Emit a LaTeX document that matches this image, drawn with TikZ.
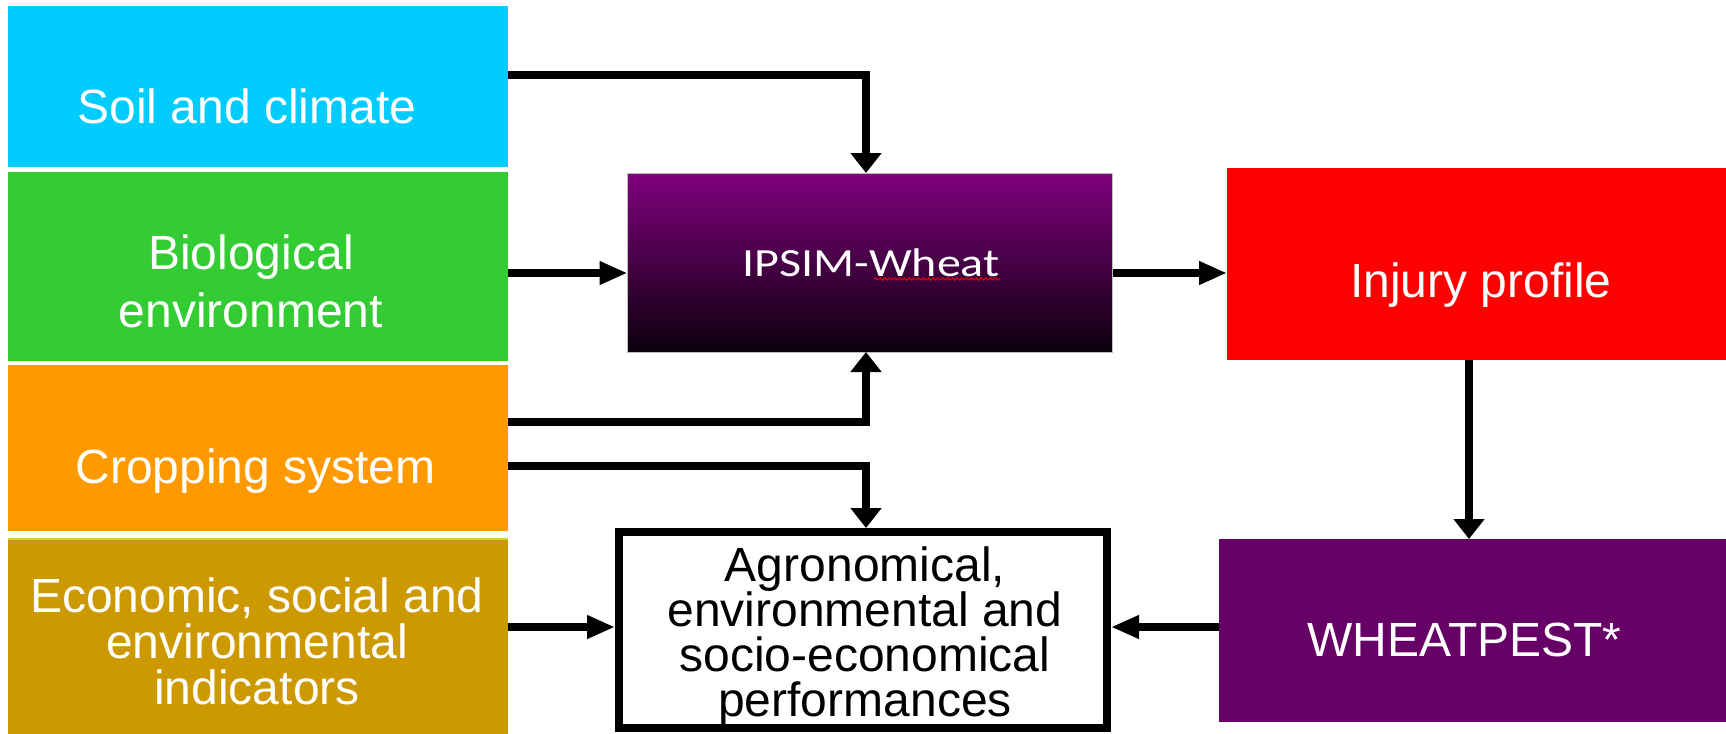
\documentclass[tikz,border=0pt]{standalone}
\usepackage{fontspec}
\setmainfont{Liberation Sans}
\newfontfamily\calibri{Carlito}
\usepackage{graphicx}
\usetikzlibrary{arrows.meta,decorations.pathmorphing}

\definecolor{soilc}{RGB}{0,204,255}
\definecolor{bioc}{RGB}{51,204,51}
\definecolor{cropc}{RGB}{255,153,0}
\definecolor{econc}{RGB}{204,153,0}
\definecolor{econline}{RGB}{204,214,40}
\definecolor{injc}{RGB}{255,0,0}
\definecolor{wpc}{RGB}{102,0,102}
\definecolor{iptop}{RGB}{128,0,126}
\definecolor{ipmid}{RGB}{94,0,92}
\definecolor{ipbot}{RGB}{12,0,12}

\begin{document}
\begin{tikzpicture}[x=0.5pt,y=-0.5pt,
  box/.style={rectangle, inner sep=0pt, outer sep=0pt, draw=none},
  lbl/.style={inner sep=0pt, outer sep=0pt, text=white, align=center, font=\fontsize{24}{28.5}\selectfont},
  hconn/.style={line width=4pt, -{Triangle[width=11pt,length=14pt]}},
  vconn/.style={line width=4.4pt, -{Triangle[width=15pt,length=10pt]}},
]
\fill[white] (0,0) rectangle (1726,734);
\useasboundingbox (0,0) rectangle (1726,734);

% boxes
\node[box, fill=soilc, minimum width=250pt, minimum height=80.5pt] (soil) at (258,86.5) {};
\node[box, fill=bioc, minimum width=250pt, minimum height=94.5pt] (bio) at (258,266.5) {};
\node[box, fill=cropc, minimum width=250pt, minimum height=83pt] (crop) at (258,448) {};
\node[box, fill=econc, minimum width=250pt, minimum height=97.5pt] (econ) at (258,636.5) {};
\draw[econline, line width=1pt] (econ.north west) -- (econ.north east);
\node[box, top color=iptop, middle color=ipmid, bottom color=ipbot, draw=gray!50, line width=0.4pt, minimum width=242.5pt, minimum height=89.5pt] (ipsim) at (870,262.5) {};
\node[box, fill=injc, minimum width=249.5pt, minimum height=96pt] (injury) at (1476.5,264) {};
\node[box, fill=wpc, minimum width=253.5pt, minimum height=91.5pt] (wp) at (1472.5,630.5) {};
\node[box, fill=white, draw=black, line width=4pt, outer sep=2pt, minimum width=244pt, minimum height=98pt] (agro) at (863,630) {};

% texts
\node[lbl, anchor=base] (soilt) at (247,123) {Soil and climate};
\node[lbl, anchor=north, font=\fontsize{24}{29}\selectfont] (biot) at (251,235) {Biological\\environment};
\node[lbl, anchor=base] (cropt) at (255.5,483) {Cropping system};
\node[lbl, anchor=north, font=\fontsize{24}{23}\selectfont] (econt) at (257,578) {Economic, social and\\environmental\\indicators};
\node[lbl, anchor=base] (injt) at (1481,297) {Injury profile};
\node[lbl, anchor=base] (wpt) at (1464.5,656) {WHEATPEST*};
\node[lbl, anchor=base, font=\calibri\fontsize{20}{24}\selectfont] (ipt) at (871,276) {\scalebox{1.2}[1]{IPSIM-Wheat}};
\draw[red, line width=0.4pt, decorate, decoration={snake, amplitude=0.6pt, segment length=2.4pt}] (874,279) -- (1000,279);
\node[lbl, text=black, anchor=north, font=\fontsize{24}{22.5}\selectfont] (agt) at (865,547) {Agronomical,\\environmental and\\socio-economical\\performances};

% bend and row coordinates
\coordinate (b1) at (866,75);
\coordinate (b2) at (866,422);
\coordinate (b3) at (866,466);
\coordinate (row1) at (700,273);
\coordinate (row2) at (700,627);
\coordinate (col) at (1469,450);

% connectors
\draw[vconn] (soil.east |- b1) -- (b1) -- (ipsim.north -| b1);
\draw[hconn] (bio.east |- row1) -- (ipsim.west |- row1);
\draw[hconn] (ipsim.east |- row1) -- (injury.west |- row1);
\draw[vconn] (crop.east |- b2) -- (b2) -- (ipsim.south -| b2);
\draw[vconn] (crop.east |- b3) -- (b3) -- (agro.north -| b3);
\draw[hconn] (econ.east |- row2) -- (agro.west |- row2);
\draw[hconn] (wp.west |- row2) -- (agro.east |- row2);
\draw[vconn] (injury.south -| col) -- (wp.north -| col);
\end{tikzpicture}
\end{document}
